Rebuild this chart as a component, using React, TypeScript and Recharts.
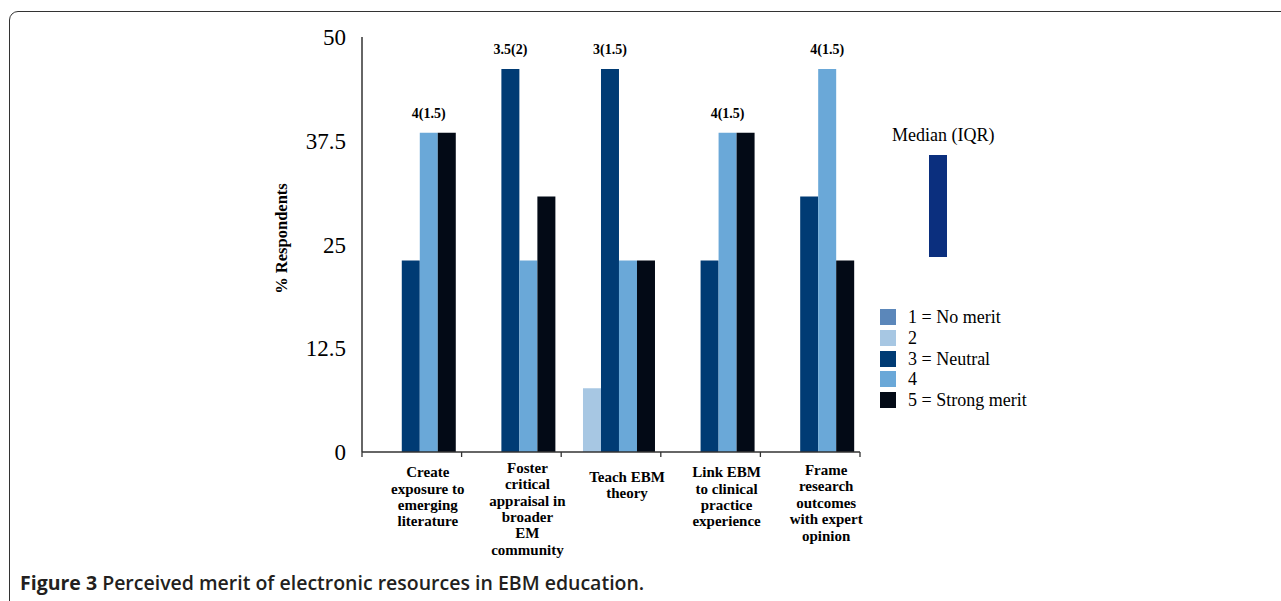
import React from "react";
import { BarChart, Bar, XAxis, YAxis, Legend, LabelList, Label } from "recharts";

const categories: string[][] = [
  ["Create", "exposure to", "emerging", "literature"],
  ["Foster", "critical", "appraisal in", "broader", "EM", "community"],
  ["Teach EBM", "theory"],
  ["Link EBM", "to clinical", "practice", "experience"],
  ["Frame", "research", "outcomes", "with expert", "opinion"],
];
const noMerit = [0, 0, 0, 0, 0];
const two = [0, 0, 7.69, 0, 0];
const neutral = [23.08, 46.15, 46.15, 23.08, 30.77];
const four = [38.46, 23.08, 23.08, 38.46, 46.15];
const strongMerit = [38.46, 30.77, 23.08, 38.46, 23.08];
const medianIqr = ["4(1.5)", "3.5(2)", "3(1.5)", "4(1.5)", "4(1.5)"];
const medianOver = ["s4", "s3", "s3", "s4", "s4"];
const yTicks = [0, 12.5, 25, 37.5, 50];

const seriesInfo = [
  { key: "s1", name: "1 = No merit", color: "#5b87ba" },
  { key: "s2", name: "2", color: "#a7c7e3" },
  { key: "s3", name: "3 = Neutral", color: "#003b74" },
  { key: "s4", name: "4", color: "#6aa8d8" },
  { key: "s5", name: "5 = Strong merit", color: "#030a16" },
];

const data = categories.map((c, i) => ({
  cat: c.join(" "),
  lines: c,
  s1: noMerit[i],
  s2: two[i],
  s3: neutral[i],
  s4: four[i],
  s5: strongMerit[i],
  median: medianIqr[i],
  over: medianOver[i],
}));

const SERIF = "'Liberation Serif', 'Times New Roman', serif";

const CatTick = (props: any) => {
  const { x, y, payload, index } = props;
  const half = payload && payload.offset ? payload.offset : 49.8;
  const lines: string[] = data[index] ? data[index].lines : [];
  const n = lines.length;
  const firstBaseline = 486 - 2.2 * n - 452;
  return (
    <g>
      <line x1={x - half} x2={x - half} y1={y} y2={y + 5} stroke="#333" strokeWidth={1.3} />
      {index === data.length - 1 && (
        <line x1={x + half} x2={x + half} y1={y} y2={y + 5} stroke="#333" strokeWidth={1.3} />
      )}
      <text
        x={x + 16}
        y={y + firstBaseline}
        textAnchor="middle"
        fontFamily={SERIF}
        fontWeight="bold"
        fontSize={15}
        fill="#000"
      >
        {lines.map((l, i) => (
          <tspan key={i} x={x + 16} dy={i === 0 ? 0 : 16.4}>
            {l}
          </tspan>
        ))}
      </text>
    </g>
  );
};

const medianLabel = (seriesKey: string) => (props: any) => {
  const { x, y, width, index } = props;
  if (!data[index] || data[index].over !== seriesKey) return null;
  return (
    <text
      x={x + width / 2}
      y={y - 15}
      textAnchor="middle"
      fontFamily={SERIF}
      fontWeight="bold"
      fontSize={14}
      fill="#000"
    >
      {data[index].median}
    </text>
  );
};

const LegendContent = () => (
  <div style={{ position: "relative", width: 200, height: 300, fontFamily: SERIF, fontSize: 18, color: "#000" }}>
    <div style={{ position: "absolute", left: 22, top: 4, whiteSpace: "nowrap", lineHeight: "22px" }}>Median (IQR)</div>
    <div style={{ position: "absolute", left: 59, top: 35, width: 18, height: 102, background: "#0b2f7e" }} />
    {seriesInfo.map((s, i) => (
      <div
        key={s.key}
        style={{ position: "absolute", left: 10, top: 187 + i * 20.8, height: 20, display: "flex", alignItems: "center", whiteSpace: "nowrap" }}
      >
        <span style={{ display: "inline-block", width: 16, height: 16, background: s.color, marginRight: 12 }} />
        <span style={{ lineHeight: "20px" }}>{s.name}</span>
      </div>
    ))}
  </div>
);

export default function App() {
  return (
    <div style={{ position: "absolute", left: 0, top: 0, width: 1281, height: 601, background: "#fff", overflow: "hidden" }}>
      <div
        style={{
          position: "absolute",
          left: 9,
          top: 11,
          width: 1320,
          height: 640,
          border: "1.6px solid #333",
          borderRadius: 9,
          boxSizing: "border-box",
        }}
      />
      <BarChart
        width={1281}
        height={601}
        data={data}
        margin={{ top: 37, right: 421, bottom: 49, left: 302 }}
        barCategoryGap="3.8%"
        barGap={0}
        style={{ position: "absolute", left: 0, top: 0 }}
      >
        <XAxis
          dataKey="cat"
          height={100}
          interval={0}
          axisLine={{ stroke: "#333", strokeWidth: 1.5 }}
          tickLine={false}
          tickSize={0}
          tickMargin={0}
          tick={<CatTick />}
        />
        <YAxis
          width={60}
          domain={[0, 50]}
          ticks={yTicks}
          interval={0}
          axisLine={{ stroke: "#333", strokeWidth: 1.5 }}
          tickLine={false}
          tickSize={0}
          tickMargin={16}
          tick={{ fontFamily: SERIF, fontSize: 23, fill: "#000" }}
        >
          <Label
            content={(p: any) => {
              const vb = p.viewBox || { x: 302, y: 37, width: 60, height: 415 };
              const cx = vb.x - 21;
              const cy = vb.y + vb.height / 2 - 6;
              return (
                <text
                  x={cx}
                  y={cy}
                  transform={`rotate(-90 ${cx} ${cy})`}
                  textAnchor="middle"
                  dominantBaseline="central"
                  fontFamily={SERIF}
                  fontWeight="bold"
                  fontSize={16.5}
                  fill="#000"
                >
                  % Respondents
                </text>
              );
            }}
          />
        </YAxis>
        <Legend
          layout="vertical"
          align="center"
          verticalAlign="middle"
          wrapperStyle={{ position: "absolute", left: 870, top: 120, width: 200, height: 300 }}
          content={<LegendContent />}
        />
        {seriesInfo.map((s) => (
          <Bar key={s.key} dataKey={s.key} name={s.name} fill={s.color} isAnimationActive={false}>
            {(s.key === "s3" || s.key === "s4") && (
              <LabelList dataKey="median" content={medianLabel(s.key)} />
            )}
          </Bar>
        ))}
      </BarChart>
      <div
        style={{
          position: "absolute",
          left: 20,
          top: 570,
          fontFamily: "'Open Sans', sans-serif",
          fontSize: 19.5,
          fontWeight: 600,
          color: "#231f20",
          whiteSpace: "nowrap",
          lineHeight: "26px",
        }}
      >
        <span style={{ fontWeight: 700 }}>Figure 3</span> Perceived merit of electronic resources in EBM education.
      </div>
    </div>
  );
}
